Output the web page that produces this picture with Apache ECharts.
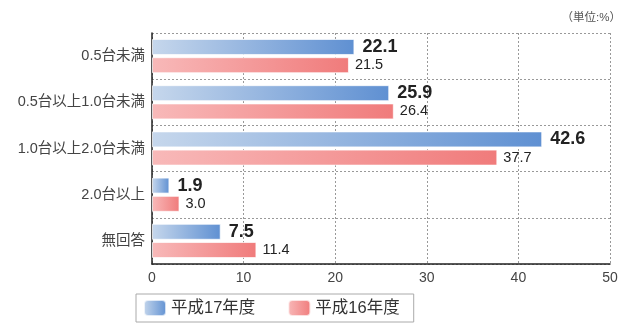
<!DOCTYPE html>
<html>
<head>
<meta charset="utf-8">
<script src="https://cdn.jsdelivr.net/npm/echarts@6/dist/echarts.min.js"></script>
<style>
html,body{margin:0;padding:0;background:#fff;}
#chart{width:639px;height:331px;}
</style>
</head>
<body>
<div id="chart"></div>
<script>
// 保有台数の区分
const categories = ['0.5台未満', '0.5台以上1.0台未満', '1.0台以上2.0台未満', '2.0台以上', '無回答'];
// 年度別の割合（%）
const seriesNames = ['平成17年度', '平成16年度'];
const valuesH17 = [22.1, 25.9, 42.6, 1.9, 7.5];
const valuesH16 = [21.5, 26.4, 37.7, 3.0, 11.4];
const xTicks = [0, 10, 20, 30, 40, 50];

const FONT = '"Liberation Sans", "Noto Sans CJK JP", sans-serif';

const blueGrad = new echarts.graphic.LinearGradient(0, 0, 1, 0, [
  { offset: 0, color: '#c6d7ec' },
  { offset: 1, color: '#5f90d2' }
]);
const redGrad = new echarts.graphic.LinearGradient(0, 0, 1, 0, [
  { offset: 0, color: '#f8b9b9' },
  { offset: 1, color: '#f07b7b' }
]);

const chart = echarts.init(document.getElementById('chart'), null, { renderer: 'canvas' });

chart.setOption({
  animation: false,
  textStyle: { fontFamily: FONT },
  grid: { left: 152, right: 29, top: 33, bottom: 67, containLabel: false },
  graphic: [{
    type: 'text',
    right: 18,
    top: 12,
    style: { text: '（単位:%）', fill: '#555', font: '11.5px ' + FONT }
  }],
  legend: {
    data: seriesNames,
    left: 136,
    top: 294,
    itemWidth: 22,
    itemHeight: 16,
    itemGap: 32,
    padding: [5, 14, 5, 7],
    borderColor: '#aaa',
    borderWidth: 1,
    textStyle: { fontSize: 16.5, color: '#333', fontFamily: FONT }
  },
  xAxis: {
    type: 'value',
    min: xTicks[0],
    max: xTicks[xTicks.length - 1],
    interval: 10,
    axisLine: { show: true, lineStyle: { color: '#222', width: 1.5 } },
    axisTick: { show: false },
    axisLabel: { fontSize: 14, color: '#444', margin: 7, fontFamily: FONT },
    splitLine: { show: true, lineStyle: { type: [2, 2], color: '#999', width: 1 } }
  },
  yAxis: {
    type: 'category',
    data: categories,
    inverse: true,
    axisLine: { show: true, lineStyle: { color: '#222', width: 1.5 } },
    axisTick: { show: false },
    axisLabel: { fontSize: 14.5, color: '#444', margin: 7, fontFamily: FONT },
    splitLine: { show: true, lineStyle: { type: [2, 2], color: '#999', width: 1 } }
  },
  series: [
    {
      name: seriesNames[0],
      type: 'bar',
      data: valuesH17,
      barWidth: 16,
      barGap: '14%',
      itemStyle: { color: blueGrad, borderColor: 'rgba(255,255,255,0.7)', borderWidth: 1 },
      label: {
        show: true,
        position: 'right',
        distance: 8,
        formatter: p => p.value.toFixed(1),
        fontSize: 18,
        fontWeight: 'bold',
        color: '#222',
        fontFamily: FONT
      }
    },
    {
      name: seriesNames[1],
      type: 'bar',
      data: valuesH16,
      barWidth: 16,
      itemStyle: { color: redGrad, borderColor: 'rgba(255,255,255,0.7)', borderWidth: 1 },
      label: {
        show: true,
        position: 'right',
        distance: 6,
        formatter: p => p.value.toFixed(1),
        fontSize: 14.5,
        color: '#222',
        fontFamily: FONT
      }
    }
  ]
});
</script>
</body>
</html>
